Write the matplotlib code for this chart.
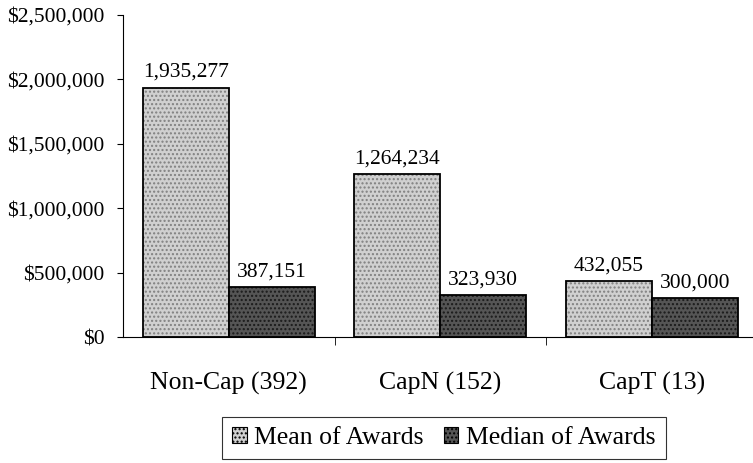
import numpy as np
import matplotlib.pyplot as plt
from matplotlib.ticker import FuncFormatter
from matplotlib.patches import Patch

categories = ["Non-Cap (392)", "CapN (152)", "CapT (13)"]
mean_awards = [1935277, 1264234, 432055]
median_awards = [387151, 323930, 300000]
series_names = ["Mean of Awards", "Median of Awards"]

plt.rcParams['font.family'] = ['Liberation Serif', 'DejaVu Serif']
plt.rcParams['hatch.linewidth'] = 1.0

fig = plt.figure(figsize=(7.53, 4.63), dpi=100)
# axes: y axis at x=123px, baseline at y=337px, $2.5M at y=15px
ax = fig.add_axes([123/753, 126/463, 630/753, 322/463])

x = np.arange(len(categories))
w = 0.407

# hatched fill first, black outline drawn over it
styles = [("#d0d0d0", "#808080"), ("#555555", "#1a1a1a")]
for k, vals in enumerate([mean_awards, median_awards]):
    pos = x - w/2 + k*w
    fc, hc = styles[k]
    ax.bar(pos, vals, w, color=fc, edgecolor=hc, hatch="....", linewidth=0)
    ax.bar(pos, vals, w, fill=False, edgecolor="black", linewidth=1.3)
    for p, v in zip(pos, vals):
        ax.text(p, v + 45000, f"{v:,}", ha="center", va="bottom", fontsize=15.5)

ax.set_ylim(0, 2500000)
ax.set_yticks(np.arange(0, 2500001, 500000))
ax.yaxis.set_major_formatter(FuncFormatter(lambda v, p: f"${int(v):,}"))
ax.set_xlim(-0.5, -0.5 + 630/211.5)
ax.set_xticks(x)
ax.set_xticklabels(categories, fontsize=18.5)
ax.set_xticks([0.5, 1.5], minor=True)
ax.tick_params(axis="x", which="major", length=0, pad=25)
ax.tick_params(axis="x", which="minor", length=6, direction="out")
ax.tick_params(axis="y", labelsize=15.5, length=4.5, direction="out", pad=9)
ax.spines["top"].set_visible(False)
ax.spines["right"].set_visible(False)

leg_handles = [Patch(facecolor=styles[k][0], edgecolor="black", hatch="....", linewidth=0.8)
               for k in range(2)]
leg = fig.legend(leg_handles, series_names, loc="center", bbox_to_anchor=(444/753, 1 - 438/463),
                 ncol=2, fontsize=18.5, frameon=True, fancybox=False, edgecolor="black",
                 handlelength=0.55, handleheight=0.55, handletextpad=0.3, columnspacing=0.8,
                 borderpad=0.4, borderaxespad=0)
leg.get_frame().set_linewidth(0.8)

fig.savefig("out.png", dpi=100)
